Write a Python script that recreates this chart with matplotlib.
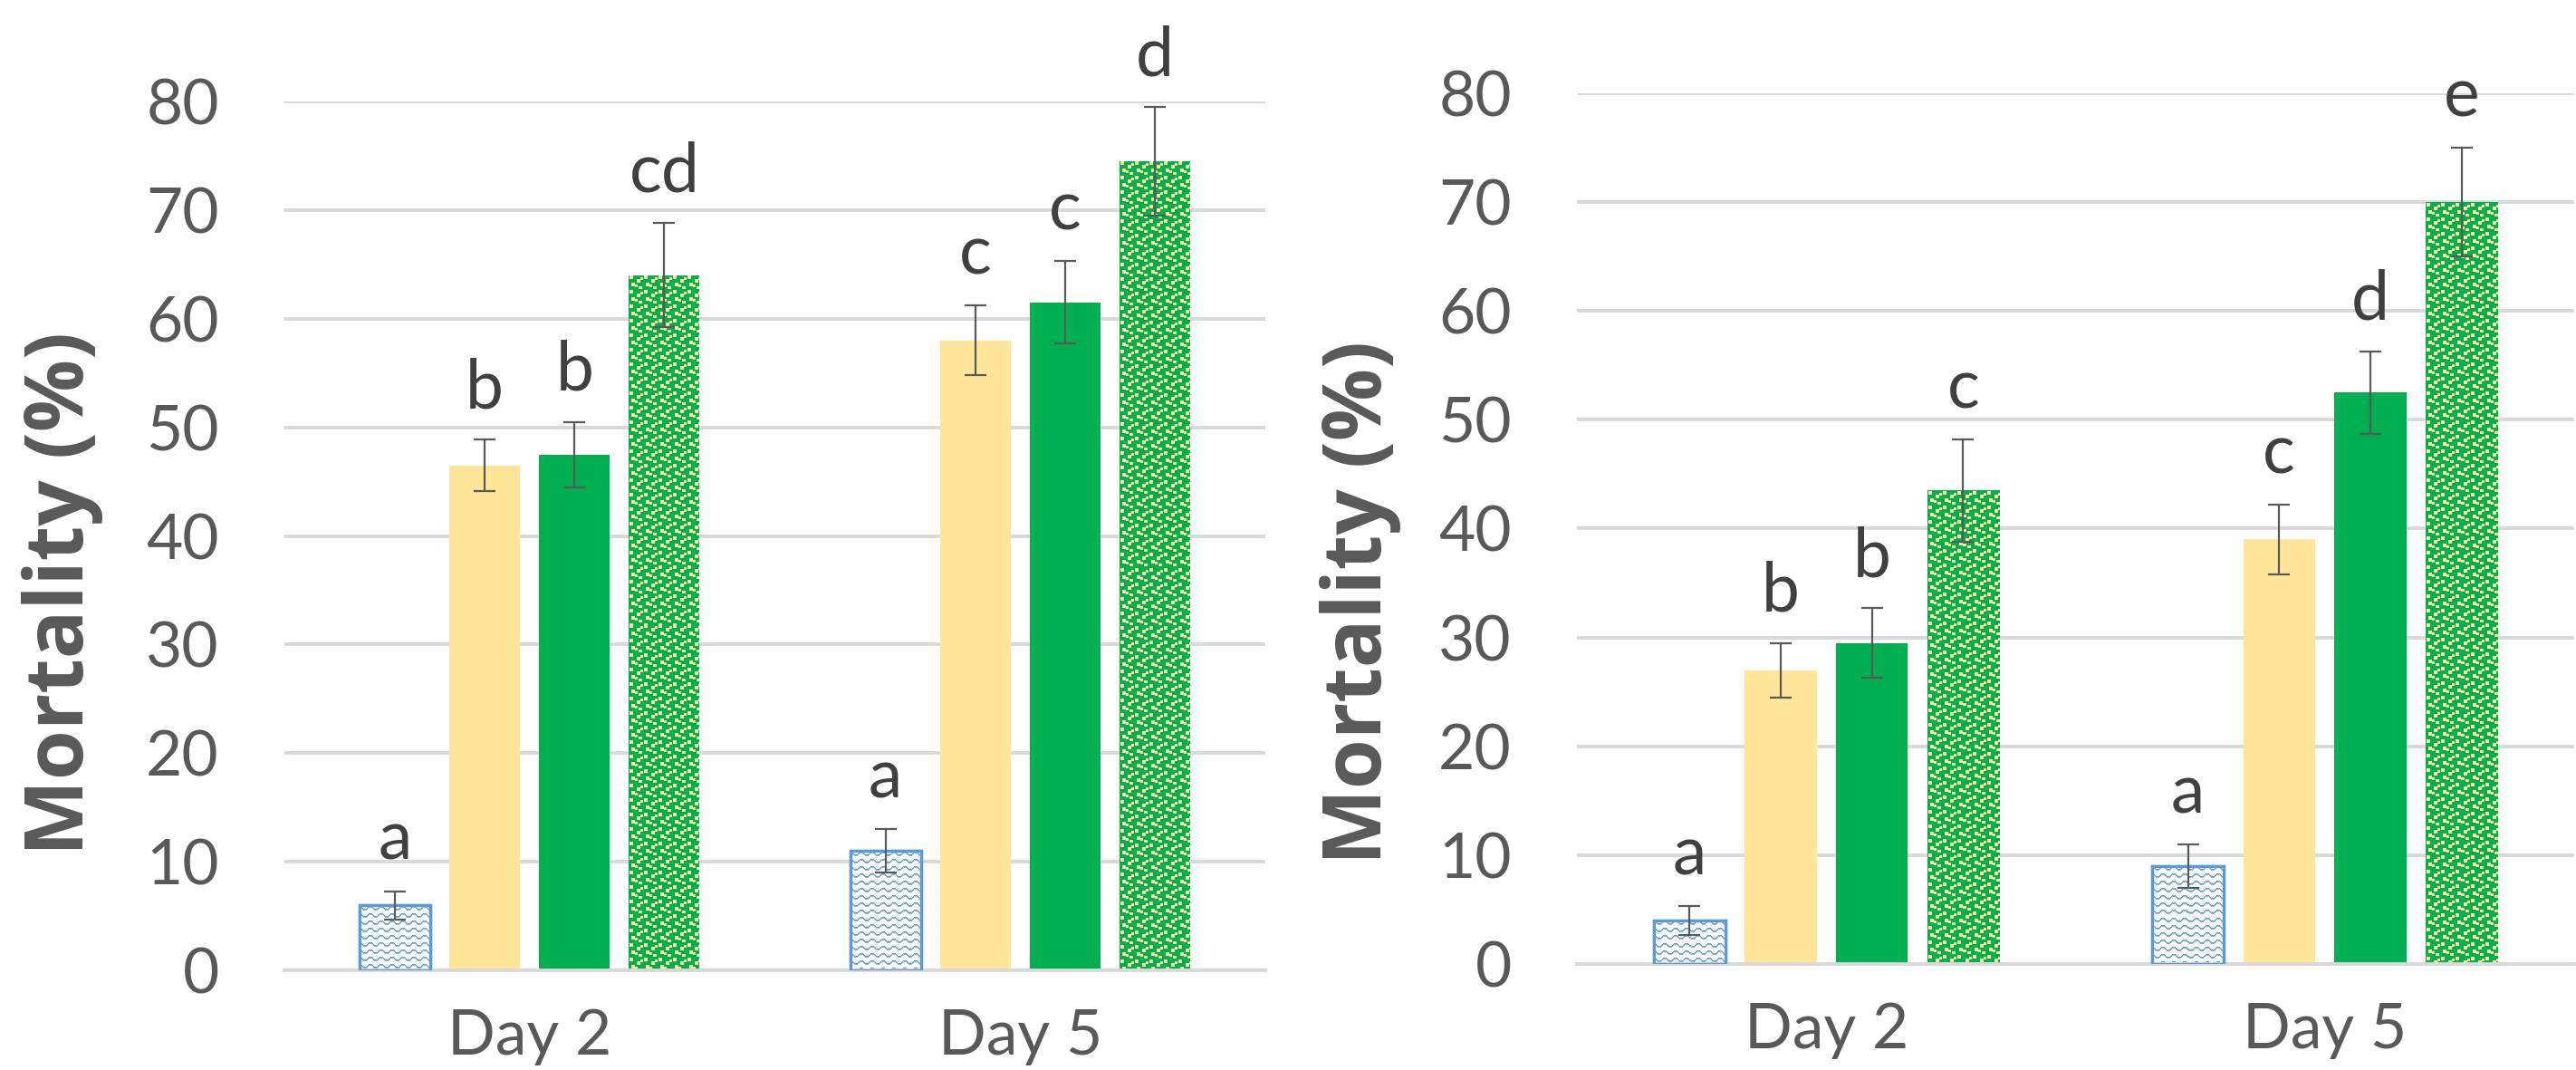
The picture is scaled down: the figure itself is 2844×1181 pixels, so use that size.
import numpy as np
import matplotlib
matplotlib.use('Agg')
from matplotlib import pyplot as plt

days = ['Day 2', 'Day 5']

# mortality (%) per treatment, first panel
left_vals = [[6.0, 46.5, 47.5, 64.0], [11.0, 58.0, 61.5, 74.5]]
left_err = [[1.3, 2.4, 3.0, 4.8], [2.0, 3.2, 3.8, 5.0]]
left_letters = [['a', 'b', 'b', 'cd'], ['a', 'c', 'c', 'd']]

# second panel
right_vals = [[4.0, 27.0, 29.5, 43.5], [9.0, 39.0, 52.5, 70.0]]
right_err = [[1.3, 2.5, 3.2, 4.7], [2.0, 3.2, 3.8, 5.0]]
right_letters = [['a', 'b', 'b', 'c'], ['a', 'c', 'd', 'e']]

yticks = [0, 10, 20, 30, 40, 50, 60, 70, 80]

TXT = '#595959'
GRID = '#D9D9D9'
BLUE = '#5B9BD5'
YELLOW = '#FFE699'
GREEN = '#00B050'
FONT = 'Lato'
DPI = 200

step = 0.183
width = 0.144
offsets = (np.arange(4) - 1.5) * step


def hex_rgb(c):
    c = c.lstrip('#')
    return np.array([int(c[i:i + 2], 16) for i in (0, 2, 4)], dtype=float) / 255


def wave_tile():
    # zigzag lines on white, 12 px period, 8 px row pitch
    t = np.ones((8, 12, 3))
    xs = np.arange(12)
    ys = [0, 0, 1, 2, 3, 3, 3, 3, 2, 1, 0, 0]
    for x, y in zip(xs, ys):
        t[y + 1, x] = hex_rgb(BLUE)
        t[y + 2, x] = hex_rgb('#8DB9E3')
    return t


def confetti_tile():
    # small yellow squares scattered on green
    t = np.ones((16, 16, 3)) * hex_rgb(GREEN)
    spots = [(1, 1), (9, 3), (5, 9), (13, 11), (3, 13), (11, 7)]
    for r, c in spots[:4]:
        t[r:r + 4, c:c + 4] = hex_rgb(YELLOW)
    for r, c in spots[4:]:
        t[r:r + 3, c:c + 3] = hex_rgb(YELLOW)
    return t


def fill_texture(ax, bar, tile, z):
    bb = bar.get_window_extent()
    w, h = max(int(round(bb.width)), 1), max(int(round(bb.height)), 1)
    ny = h // tile.shape[0] + 1
    nx = w // tile.shape[1] + 1
    img = np.tile(tile, (ny, nx, 1))[:h, :w]
    x0, y0 = bar.get_x(), bar.get_y()
    im = ax.imshow(img, extent=(x0, x0 + bar.get_width(), y0, y0 + bar.get_height()),
                   aspect='auto', interpolation='nearest', zorder=z)
    im.set_clip_path(bar)


def panel(ax, vals, errs, letters):
    ax.set_xlim(-0.5, 1.5)
    ax.set_ylim(0, 80)
    ax.set_axisbelow(True)
    ax.grid(axis='y', color=GRID, lw=1.4)
    for s in ['top', 'right', 'left']:
        ax.spines[s].set_visible(False)
    ax.spines['bottom'].set_color(GRID)
    ax.spines['bottom'].set_linewidth(1.4)
    ax.set_yticks(yticks)
    ax.set_xticks(range(len(days)))
    ax.set_xticklabels(days)
    ax.tick_params(length=0, labelsize=25, labelcolor=TXT)
    ax.tick_params(axis='y', pad=26)
    ax.tick_params(axis='x', pad=15)
    for lab in ax.get_xticklabels() + ax.get_yticklabels():
        lab.set_family(FONT)

    x = np.arange(len(days))
    vals = np.array(vals)
    errs = np.array(errs)
    styles = [dict(color='white', edgecolor=BLUE, linewidth=1.2),
              dict(color=YELLOW, linewidth=0),
              dict(color=GREEN, linewidth=0),
              dict(color=GREEN, linewidth=0)]
    for i in range(4):
        bars = ax.bar(x + offsets[i], vals[:, i], width, zorder=2, **styles[i])
        ax.errorbar(x + offsets[i], vals[:, i], yerr=errs[:, i], fmt='none',
                    ecolor=TXT, elinewidth=0.8, capsize=4.3, capthick=0.8, zorder=4)
        if i == 0:
            for b in bars:
                fill_texture(ax, b, wave_tile(), 2.5)
                ax.add_patch(plt.Rectangle((b.get_x(), b.get_y()), b.get_width(), b.get_height(),
                                           fill=False, edgecolor=BLUE, lw=1.2, zorder=3))
        if i == 3:
            for b in bars:
                fill_texture(ax, b, confetti_tile(), 2.5)
        for j in range(len(days)):
            ax.annotate(letters[j][i], (x[j] + offsets[i], vals[j, i] + errs[j, i]),
                        xytext=(0, 12.5), textcoords='offset points', ha='center',
                        va='baseline', fontsize=27, color='#404040', family=FONT,
                        annotation_clip=False)
    ax.set_xlim(-0.5, 1.5)
    ax.set_ylim(0, 80)


fig = plt.figure(figsize=(14.22, 5.905), dpi=DPI)
ax1 = fig.add_axes([0.1104, 0.0931, 0.3808, 0.8121])
ax2 = fig.add_axes([0.6122, 0.0991, 0.3870, 0.8137])

panel(ax1, left_vals, left_err, left_letters)
panel(ax2, right_vals, right_err, right_letters)

fig.text(0.0243, 0.445, 'Mortality (%)', rotation=90, ha='center', va='center',
         fontsize=32, fontweight='bold', color=TXT, family='Open Sans')
fig.text(0.528, 0.437, 'Mortality (%)', rotation=90, ha='center', va='center',
         fontsize=32, fontweight='bold', color=TXT, family='Open Sans')

fig.savefig('out.png', dpi=DPI)
